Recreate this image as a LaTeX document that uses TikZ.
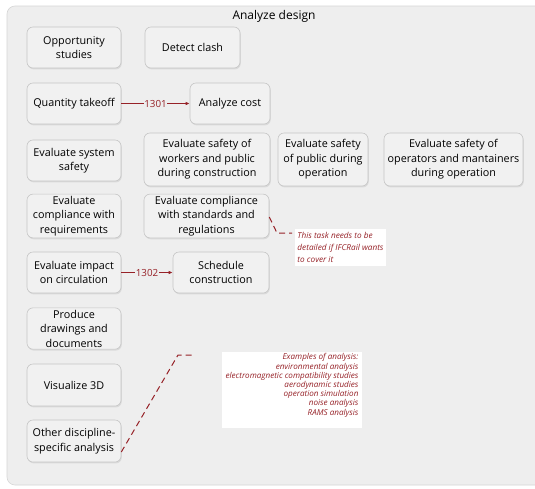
\documentclass[tikz,border=0pt]{standalone}
\usepackage{fontspec}
\setmainfont{Open Sans}
\usetikzlibrary{arrows.meta,shadows}
\definecolor{panelbg}{HTML}{EEEEEE}
\definecolor{panelline}{HTML}{D6D6D6}
\definecolor{boxfill}{HTML}{F1F1F1}
\definecolor{boxline}{HTML}{C6C6C6}
\definecolor{flowred}{HTML}{962127}
\tikzset{
  task/.style={draw=boxline, fill=boxfill, rounded corners=6pt, line width=0.6pt,
    align=center, font=\fontsize{10.8}{14.5}\selectfont, inner sep=2pt,
    minimum height=41pt,
    drop shadow={opacity=0.18, shadow xshift=0.8pt, shadow yshift=-1.4pt}},
  flow/.style={draw=flowred, line width=0.8pt, -{Latex[length=4pt,width=3.5pt]}},
  flowlabel/.style={fill=panelbg, text=flowred, inner sep=0.6pt,
    font=\fontsize{9.8}{12}\selectfont},
  note/.style={fill=white, text=flowred, inner sep=1.5pt},
  callout/.style={draw=flowred, line width=1pt, dash pattern=on 6pt off 4pt}
}
\begin{document}
\begin{tikzpicture}[x=1pt,y=-1pt]
\useasboundingbox (0,0) rectangle (535,488);
\clip (0,0) rectangle (535,488);
\fill[white] (0,0) rectangle (535,488);
% the enclosing activity panel
\draw[draw=panelline, fill=panelbg, rounded corners=8pt, line width=0.6pt]
  (7,6) rectangle (560,485);
\node[font=\fontsize{12}{14}\selectfont] (title) at (274,16) {Analyze design};

% tasks
\node[task, minimum width=94pt] (opp) at (74,47.5) {Opportunity\\studies};
\node[task, minimum width=95pt] (clash) at (192.5,47.5) {Detect clash};
\node[task, minimum width=94pt] (qty) at (74,103.5) {Quantity takeoff};
\node[task, minimum width=80pt] (cost) at (230,103.5) {Analyze cost};
\node[task, minimum width=94pt] (syssafe) at (74,160.5) {Evaluate system\\safety};
\node[task, minimum width=126pt, minimum height=53pt] (workers) at (207,159.5)
  {Evaluate safety of\\workers and public\\during construction};
\node[task, minimum width=90pt, minimum height=53pt] (public) at (323,159.5)
  {Evaluate safety\\of public during\\operation};
\node[task, minimum width=139pt, minimum height=53pt] (operators) at (453.5,159.5)
  {Evaluate safety of\\operators and mantainers\\during operation};
\node[task, minimum width=94pt, minimum height=42pt] (compreq) at (74,216)
  {Evaluate\\compliance with\\requirements};
\node[task, minimum width=125pt, minimum height=42pt] (compstd) at (206.5,216)
  {Evaluate compliance\\with standards and\\regulations};
\node[task, minimum width=94pt] (impact) at (74,272.5) {Evaluate impact\\on circulation};
\node[task, minimum width=96pt] (schedule) at (221,272.5) {Schedule\\construction};
\node[task, minimum width=94pt] (drawings) at (74,328.5) {Produce\\drawings and\\documents};
\node[task, minimum width=94pt, minimum height=42pt] (vis) at (74,385) {Visualize 3D};
\node[task, minimum width=94pt, minimum height=42pt] (other) at (74,441)
  {Other discipline-\\specific analysis};

% information flows
\draw[flow] (qty) -- node[flowlabel] {1301} (cost);
\draw[flow] (impact) -- node[flowlabel] {1302} (schedule);

% annotations
\node[note, minimum width=91pt, minimum height=37pt, align=left,
  font=\fontsize{8.2}{12.3}\selectfont\itshape] (note1) at (340.5,247.5)
  {This task needs to be\\detailed if IFCRail wants\\to cover it};
\node[note, minimum width=140pt, align=right, anchor=north,
  font=\fontsize{8.1}{9.2}\selectfont\itshape] (note2) at (292,352)
  {Examples of analysis:\\environmental analysis\\electromagnetic compatibility studies\\aerodynamic studies\\operation simulation\\noise analysis\\RAMS analysis\\[2pt]\mbox{}};

\coordinate (k1) at (277,233);
\coordinate (e1) at (292,233);
\draw[callout] ([yshift=-1pt]compstd.east) -- (k1) -- (e1);
\coordinate (k2) at (178,355);
\coordinate (e2) at (193,355);
\draw[callout] ([yshift=-11pt]other.east) -- (k2) -- (e2);
\end{tikzpicture}
\end{document}
